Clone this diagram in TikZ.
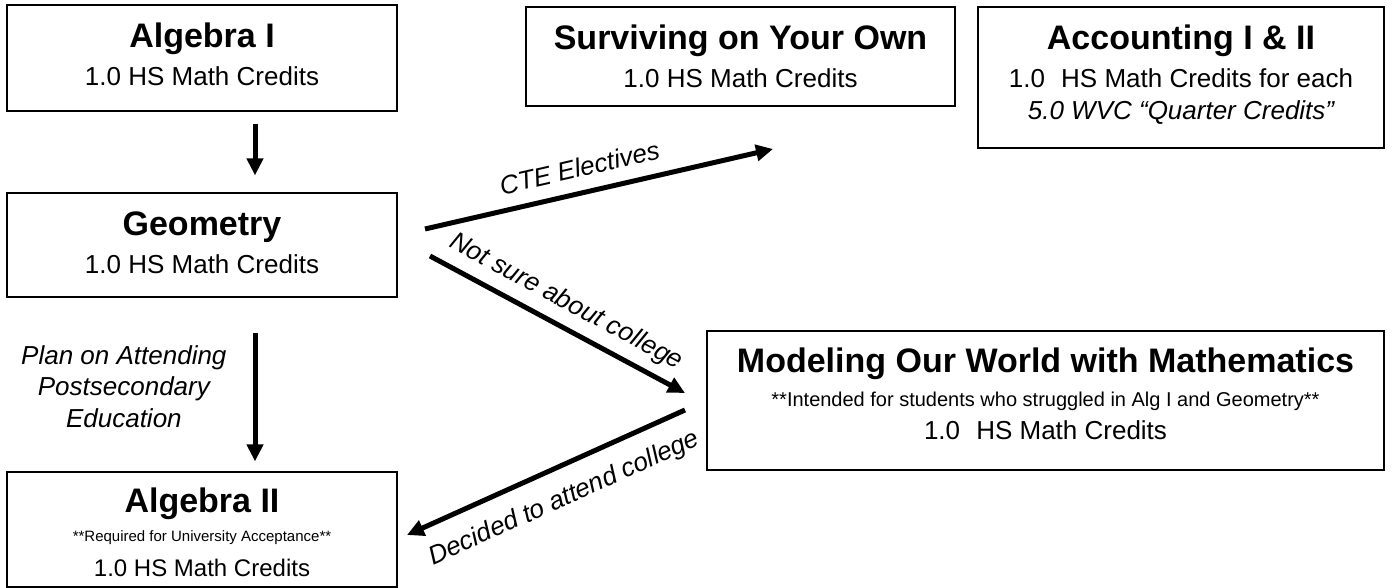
\documentclass[tikz,border=0pt]{standalone}
\usepackage{fontspec}
\setmainfont{Liberation Sans}
\usetikzlibrary{arrows.meta,positioning}

\begin{document}
\begin{tikzpicture}[x=1pt, y=-1pt,
    box/.style={draw, line width=1.2pt, inner sep=0pt},
    ttl/.style={anchor=base, inner sep=0pt, font=\fontsize{34}{40}\selectfont\bfseries},
    crd/.style={anchor=base, inner sep=0pt, font=\fontsize{26}{31}\selectfont},
    req/.style={anchor=base, inner sep=0pt, font=\fontsize{20}{24}\selectfont},
    lbl/.style={inner sep=0pt, font=\fontsize{26}{31.5}\selectfont\itshape},
    arr/.style={line width=5pt, -{Triangle[length=17pt,width=16pt]}},
    rarr/.style={line width=5pt, {Triangle[length=17pt,width=16pt]}-}]
    \useasboundingbox (0,0) rectangle (1393,588);

    % course boxes
    \node[box, minimum width=390pt, minimum height=106pt] (alg1) at (202,58) {};
    \node[box, minimum width=390pt, minimum height=104pt] (geo) at (202,245) {};
    \node[box, minimum width=390pt, minimum height=115pt] (alg2) at (202,529.5) {};
    \node[box, minimum width=429pt, minimum height=99pt] (surv) at (740.5,56.5) {};
    \node[box, minimum width=406pt, minimum height=141pt] (acct) at (1181,77.5) {};
    \node[box, minimum width=677pt, minimum height=139pt] (model) at (1045.5,400.5) {};

    % texts in the boxes
    \node[ttl] (alg1-t) at ([yshift=-43pt]alg1.north) {Algebra I};
    \node[crd] (alg1-c) at ([yshift=-81pt]alg1.north) {1.0 HS Math Credits};
    \node[ttl] (geo-t) at ([yshift=-43pt]geo.north) {Geometry};
    \node[crd] (geo-c) at ([yshift=-81pt]geo.north) {1.0 HS Math Credits};
    \node[ttl] (alg2-t) at ([yshift=-41pt]alg2.north) {Algebra II};
    \node[req, font=\fontsize{15}{18}\selectfont] (alg2-r) at ([yshift=-70pt]alg2.north)
        {**Required for University Acceptance**};
    \node[crd, font=\fontsize{24}{29}\selectfont] (alg2-c) at ([yshift=-105pt]alg2.north) {1.0 HS Math Credits};
    \node[ttl] (surv-t) at ([yshift=-43pt]surv.north) {Surviving on Your Own};
    \node[crd] (surv-c) at ([yshift=-81pt]surv.north) {1.0 HS Math Credits};
    \node[ttl] (acct-t) at ([yshift=-43pt]acct.north) {Accounting I \& II};
    \node[crd] (acct-c) at ([yshift=-81pt]acct.north) {1.0\hspace{0.62em}HS Math Credits for each};
    \node[crd, font=\fontsize{26}{31}\selectfont\itshape] (acct-q) at ([yshift=-113pt]acct.north)
        {5.0 WVC “Quarter Credits”};
    \node[ttl] (model-t) at ([yshift=-42pt]model.north) {Modeling Our World with Mathematics};
    \node[req] (model-r) at ([yshift=-76pt]model.north)
        {**Intended for students who struggled in Alg I and Geometry**};
    \node[crd] (model-c) at ([yshift=-109pt]model.north) {1.0\hspace{0.62em}HS Math Credits};

    % arrows
    \draw[arr] ([xshift=53pt, yshift=-12pt]alg1.south) -- ([xshift=53pt, yshift=17pt]geo.north);
    \draw[arr] ([xshift=53pt, yshift=-35pt]geo.south) -- ([xshift=53pt, yshift=10pt]alg2.north)
        node[lbl, pos=0.42, left=26pt, align=center] (plan) {Plan on Attending\\Postsecondary\\Education};

    \coordinate (cte-a) at (425,229);
    \coordinate (cte-b) at (773,149);
    \draw[arr] (cte-a) -- (cte-b) node[lbl, sloped, above=13pt, pos=0.46] (cte) {CTE Electives};

    \coordinate (ns-a) at (430,256);
    \coordinate (ns-b) at (685,393);
    \draw[arr] (ns-a) -- (ns-b) node[lbl, sloped, above=9pt, pos=0.49] (notsure) {Not sure about college};

    \coordinate (dec-a) at (685,410);
    \coordinate (dec-b) at (407,535);
    \draw[rarr] (dec-b) -- (dec-a) node[lbl, sloped, below=17pt, pos=0.52] (decided) {Decided to attend college};
\end{tikzpicture}
\end{document}
